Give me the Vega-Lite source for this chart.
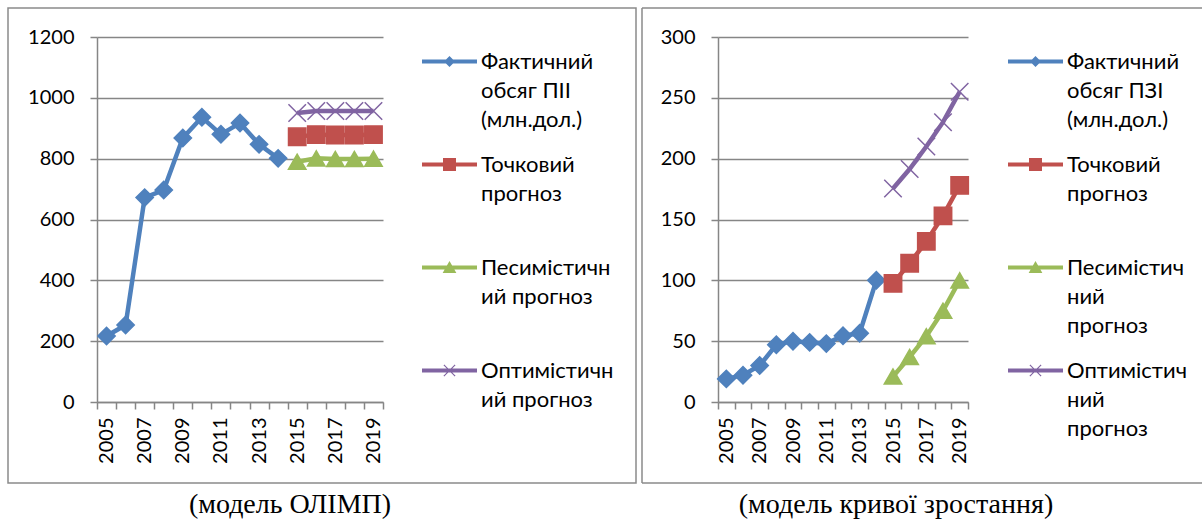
{
  "$schema": "https://vega.github.io/schema/vega-lite/v6.json",
  "background": "white",
  "padding": {"left": 7, "top": 7, "right": 0, "bottom": 0},
  "spacing": 4,
  "datasets": {
    "olimp": [
      {"year": 2005, "series": "Фактичний обсяг ПІІ (млн.дол.)", "value": 217},
      {"year": 2006, "series": "Фактичний обсяг ПІІ (млн.дол.)", "value": 253},
      {"year": 2007, "series": "Фактичний обсяг ПІІ (млн.дол.)", "value": 672},
      {"year": 2008, "series": "Фактичний обсяг ПІІ (млн.дол.)", "value": 697},
      {"year": 2009, "series": "Фактичний обсяг ПІІ (млн.дол.)", "value": 868},
      {"year": 2010, "series": "Фактичний обсяг ПІІ (млн.дол.)", "value": 936},
      {"year": 2011, "series": "Фактичний обсяг ПІІ (млн.дол.)", "value": 880},
      {"year": 2012, "series": "Фактичний обсяг ПІІ (млн.дол.)", "value": 917},
      {"year": 2013, "series": "Фактичний обсяг ПІІ (млн.дол.)", "value": 847},
      {"year": 2014, "series": "Фактичний обсяг ПІІ (млн.дол.)", "value": 801},
      {"year": 2015, "series": "Точковий прогноз", "value": 872},
      {"year": 2016, "series": "Точковий прогноз", "value": 879},
      {"year": 2017, "series": "Точковий прогноз", "value": 878},
      {"year": 2018, "series": "Точковий прогноз", "value": 878},
      {"year": 2019, "series": "Точковий прогноз", "value": 879},
      {"year": 2015, "series": "Песимістичний прогноз", "value": 790},
      {"year": 2016, "series": "Песимістичний прогноз", "value": 801},
      {"year": 2017, "series": "Песимістичний прогноз", "value": 799},
      {"year": 2018, "series": "Песимістичний прогноз", "value": 799},
      {"year": 2019, "series": "Песимістичний прогноз", "value": 800},
      {"year": 2015, "series": "Оптимістичний прогноз", "value": 950},
      {"year": 2016, "series": "Оптимістичний прогноз", "value": 957},
      {"year": 2017, "series": "Оптимістичний прогноз", "value": 957},
      {"year": 2018, "series": "Оптимістичний прогноз", "value": 957},
      {"year": 2019, "series": "Оптимістичний прогноз", "value": 957}
    ],
    "growth": [
      {"year": 2005, "series": "Фактичний обсяг ПЗІ (млн.дол.)", "value": 19},
      {"year": 2006, "series": "Фактичний обсяг ПЗІ (млн.дол.)", "value": 22},
      {"year": 2007, "series": "Фактичний обсяг ПЗІ (млн.дол.)", "value": 30},
      {"year": 2008, "series": "Фактичний обсяг ПЗІ (млн.дол.)", "value": 47},
      {"year": 2009, "series": "Фактичний обсяг ПЗІ (млн.дол.)", "value": 50},
      {"year": 2010, "series": "Фактичний обсяг ПЗІ (млн.дол.)", "value": 49},
      {"year": 2011, "series": "Фактичний обсяг ПЗІ (млн.дол.)", "value": 48},
      {"year": 2012, "series": "Фактичний обсяг ПЗІ (млн.дол.)", "value": 54.5},
      {"year": 2013, "series": "Фактичний обсяг ПЗІ (млн.дол.)", "value": 56.5},
      {"year": 2014, "series": "Фактичний обсяг ПЗІ (млн.дол.)", "value": 100},
      {"year": 2015, "series": "Точковий прогноз", "value": 97.5},
      {"year": 2016, "series": "Точковий прогноз", "value": 114},
      {"year": 2017, "series": "Точковий прогноз", "value": 132},
      {"year": 2018, "series": "Точковий прогноз", "value": 153},
      {"year": 2019, "series": "Точковий прогноз", "value": 178},
      {"year": 2015, "series": "Песимістичний прогноз", "value": 21},
      {"year": 2016, "series": "Песимістичний прогноз", "value": 37},
      {"year": 2017, "series": "Песимістичний прогноз", "value": 54},
      {"year": 2018, "series": "Песимістичний прогноз", "value": 75},
      {"year": 2019, "series": "Песимістичний прогноз", "value": 100},
      {"year": 2015, "series": "Оптимістичний прогноз", "value": 175.5},
      {"year": 2016, "series": "Оптимістичний прогноз", "value": 191.5},
      {"year": 2017, "series": "Оптимістичний прогноз", "value": 210},
      {"year": 2018, "series": "Оптимістичний прогноз", "value": 230},
      {"year": 2019, "series": "Оптимістичний прогноз", "value": 255}
    ]
  },
  "hconcat": [
    {
      "width": 286,
      "height": 365,
      "data": {"name": "olimp"},
      "title": {"text": "(модель ОЛІМП)", "orient": "bottom", "anchor": "middle", "frame": "group", "dx": 50, "offset": 7, "font": "Liberation Serif", "fontSize": 28, "fontWeight": "normal", "color": "#000"},
      "layer": [
        {
          "data": {"values": [{}]},
          "mark": {"type": "rect", "filled": false, "stroke": "#8a8a8a", "strokeWidth": 1.5},
          "encoding": {"x": {"value": -89}, "x2": {"value": 539}, "y": {"value": -29}, "y2": {"value": 446}}
        },
        {
          "mark": {"type": "line", "strokeWidth": 4.5},
          "encoding": {
            "x": {"field": "year", "type": "ordinal", "bandPosition": 0.5, "scale": {"type": "band", "paddingInner": 0, "paddingOuter": 0}, "axis": {"labelExpr": "datum.value % 2 == 1 ? datum.label : ''"}},
            "y": {"field": "value", "type": "quantitative", "scale": {"domain": [0, 1200], "nice": false}, "axis": {"values": [0, 200, 400, 600, 800, 1000, 1200], "format": "d"}},
            "color": {
              "field": "series", "type": "nominal",
              "scale": {"domain": ["Фактичний обсяг ПІІ (млн.дол.)", "Точковий прогноз", "Песимістичний прогноз", "Оптимістичний прогноз"], "range": ["#4f81bd", "#c0504d", "#9bbb59", "#8064a2"]},
              "legend": null
            }
          }
        },
        {
          "mark": {"type": "point", "filled": true, "opacity": 1, "strokeWidth": 1.5},
          "encoding": {
            "x": {"field": "year", "type": "ordinal", "bandPosition": 0.5},
            "y": {"field": "value", "type": "quantitative"},
            "fill": {"field": "series", "type": "nominal", "scale": {"domain": ["Фактичний обсяг ПІІ (млн.дол.)", "Точковий прогноз", "Песимістичний прогноз", "Оптимістичний прогноз"], "range": ["#4f81bd", "#c0504d", "#9bbb59", "#8064a2"]}, "legend": null},
            "stroke": {"field": "series", "type": "nominal", "scale": {"domain": ["Фактичний обсяг ПІІ (млн.дол.)", "Точковий прогноз", "Песимістичний прогноз", "Оптимістичний прогноз"], "range": ["#4f81bd", "#c0504d", "#9bbb59", "#8064a2"]}, "legend": null},
            "shape": {"field": "series", "type": "nominal", "scale": {"domain": ["Фактичний обсяг ПІІ (млн.дол.)", "Точковий прогноз", "Песимістичний прогноз", "Оптимістичний прогноз"], "range": ["diamond", "square", "triangle-up", "M-1,-1L1,1M-1,1L1,-1"]}, "legend": null},
            "size": {"field": "series", "type": "ordinal", "scale": {"domain": ["Фактичний обсяг ПІІ (млн.дол.)", "Точковий прогноз", "Песимістичний прогноз", "Оптимістичний прогноз"], "range": [300, 306, 306, 324]}, "legend": null}
          }
        },
        {
          "mark": {"type": "point", "filled": true, "opacity": 0},
          "encoding": {
            "x": {"field": "year", "type": "ordinal", "bandPosition": 0.5},
            "y": {"field": "value", "type": "quantitative"},
            "fill": {
              "field": "series", "type": "nominal",
              "scale": {"domain": ["Фактичний обсяг ПІІ (млн.дол.)", "Точковий прогноз", "Песимістичний прогноз", "Оптимістичний прогноз"], "range": ["#4f81bd", "#c0504d", "#9bbb59", "#8064a2"]},
              "legend": {
                "title": null, "orient": "none", "legendX": 325, "legendY": -3, "direction": "vertical", "columns": 1, "padding": 0,
                "symbolSize": 3025, "symbolStrokeWidth": 0, "symbolOpacity": 1, "gridAlign": "all", "rowPadding": 6,
                "labelFont": "Lato, Open Sans, sans-serif", "labelFontSize": 22, "labelColor": "#000", "labelLimit": 0, "labelOffset": 4, "labelBaseline": "top",
                "labelExpr": "{'Фактичний обсяг ПІІ (млн.дол.)': ['Фактичний', 'обсяг ПІІ', '(млн.дол.)'], 'Точковий прогноз': ['Точковий', 'прогноз'], 'Песимістичний прогноз': ['Песимістичн', 'ий прогноз'], 'Оптимістичний прогноз': ['Оптимістичн', 'ий прогноз']}[datum.label]",
                "encode": {"labels": {"update": {"dy": {"value": -10}, "lineHeight": {"value": 29}}}}
              }
            },
            "shape": {
              "field": "series", "type": "nominal",
              "scale": {"domain": ["Фактичний обсяг ПІІ (млн.дол.)", "Точковий прогноз", "Песимістичний прогноз", "Оптимістичний прогноз"], "range": ["M-1,-0.073H1V0.073H-1ZM0,-0.2L0.2,0L0,0.2L-0.2,0Z", "M-1,-0.073H1V0.073H-1ZM-0.236,-0.236H0.236V0.236H-0.236Z", "M-1,-0.073H1V0.073H-1ZM0,-0.24L0.25,0.2L-0.25,0.2Z", "M-1,-0.073H1V0.073H-1ZM-0.22,-0.19L-0.19,-0.22L0.22,0.19L0.19,0.22ZM-0.19,0.22L-0.22,0.19L0.19,-0.22L0.22,-0.19Z"]}
            }
          }
        }
      ],
      "resolve": {"scale": {"shape": "independent", "fill": "independent"}, "legend": {"shape": "independent", "fill": "independent"}}
    },
    {
      "width": 250,
      "height": 365,
      "data": {"name": "growth"},
      "title": {"text": "(модель кривої зростання)", "orient": "bottom", "anchor": "middle", "frame": "group", "dx": 53, "offset": 7, "font": "Liberation Serif", "fontSize": 28, "fontWeight": "normal", "color": "#000"},
      "layer": [
        {
          "data": {"values": [{}]},
          "mark": {"type": "rule", "stroke": "#8a8a8a", "strokeWidth": 1.5},
          "encoding": {"x": {"value": -76}, "x2": {"value": 484}, "y": {"value": -29}}
        },
        {
          "data": {"values": [{}]},
          "mark": {"type": "rule", "stroke": "#8a8a8a", "strokeWidth": 1.5},
          "encoding": {"x": {"value": -76}, "y": {"value": -29}, "y2": {"value": 446}}
        },
        {
          "data": {"values": [{}]},
          "mark": {"type": "rule", "stroke": "#8a8a8a", "strokeWidth": 1.5},
          "encoding": {"x": {"value": -76}, "x2": {"value": 484}, "y": {"value": 446}}
        },
        {
          "mark": {"type": "line", "strokeWidth": 4.5},
          "encoding": {
            "x": {"field": "year", "type": "ordinal", "bandPosition": 0.5, "scale": {"type": "band", "paddingInner": 0, "paddingOuter": 0}, "axis": {"labelExpr": "datum.value % 2 == 1 ? datum.label : ''"}},
            "y": {"field": "value", "type": "quantitative", "scale": {"domain": [0, 300], "nice": false}, "axis": {"values": [0, 50, 100, 150, 200, 250, 300], "format": "d"}},
            "color": {
              "field": "series", "type": "nominal",
              "scale": {"domain": ["Фактичний обсяг ПЗІ (млн.дол.)", "Точковий прогноз", "Песимістичний прогноз", "Оптимістичний прогноз"], "range": ["#4f81bd", "#c0504d", "#9bbb59", "#8064a2"]},
              "legend": null
            }
          }
        },
        {
          "mark": {"type": "point", "filled": true, "opacity": 1, "strokeWidth": 1.5},
          "encoding": {
            "x": {"field": "year", "type": "ordinal", "bandPosition": 0.5},
            "y": {"field": "value", "type": "quantitative"},
            "fill": {"field": "series", "type": "nominal", "scale": {"domain": ["Фактичний обсяг ПЗІ (млн.дол.)", "Точковий прогноз", "Песимістичний прогноз", "Оптимістичний прогноз"], "range": ["#4f81bd", "#c0504d", "#9bbb59", "#8064a2"]}, "legend": null},
            "stroke": {"field": "series", "type": "nominal", "scale": {"domain": ["Фактичний обсяг ПЗІ (млн.дол.)", "Точковий прогноз", "Песимістичний прогноз", "Оптимістичний прогноз"], "range": ["#4f81bd", "#c0504d", "#9bbb59", "#8064a2"]}, "legend": null},
            "shape": {"field": "series", "type": "nominal", "scale": {"domain": ["Фактичний обсяг ПЗІ (млн.дол.)", "Точковий прогноз", "Песимістичний прогноз", "Оптимістичний прогноз"], "range": ["diamond", "square", "triangle-up", "M-1,-1L1,1M-1,1L1,-1"]}, "legend": null},
            "size": {"field": "series", "type": "ordinal", "scale": {"domain": ["Фактичний обсяг ПЗІ (млн.дол.)", "Точковий прогноз", "Песимістичний прогноз", "Оптимістичний прогноз"], "range": [300, 306, 306, 324]}, "legend": null}
          }
        },
        {
          "mark": {"type": "point", "filled": true, "opacity": 0},
          "encoding": {
            "x": {"field": "year", "type": "ordinal", "bandPosition": 0.5},
            "y": {"field": "value", "type": "quantitative"},
            "fill": {
              "field": "series", "type": "nominal",
              "scale": {"domain": ["Фактичний обсяг ПЗІ (млн.дол.)", "Точковий прогноз", "Песимістичний прогноз", "Оптимістичний прогноз"], "range": ["#4f81bd", "#c0504d", "#9bbb59", "#8064a2"]},
              "legend": {
                "title": null, "orient": "none", "legendX": 290, "legendY": -3, "direction": "vertical", "columns": 1, "padding": 0,
                "symbolSize": 3025, "symbolStrokeWidth": 0, "symbolOpacity": 1, "gridAlign": "all", "rowPadding": 6,
                "labelFont": "Lato, Open Sans, sans-serif", "labelFontSize": 22, "labelColor": "#000", "labelLimit": 0, "labelOffset": 4, "labelBaseline": "top",
                "labelExpr": "{'Фактичний обсяг ПЗІ (млн.дол.)': ['Фактичний', 'обсяг ПЗІ', '(млн.дол.)'], 'Точковий прогноз': ['Точковий', 'прогноз'], 'Песимістичний прогноз': ['Песимістич', 'ний', 'прогноз'], 'Оптимістичний прогноз': ['Оптимістич', 'ний', 'прогноз']}[datum.label]",
                "encode": {"labels": {"update": {"dy": {"value": -10}, "lineHeight": {"value": 29}}}}
              }
            },
            "shape": {
              "field": "series", "type": "nominal",
              "scale": {"domain": ["Фактичний обсяг ПЗІ (млн.дол.)", "Точковий прогноз", "Песимістичний прогноз", "Оптимістичний прогноз"], "range": ["M-1,-0.073H1V0.073H-1ZM0,-0.2L0.2,0L0,0.2L-0.2,0Z", "M-1,-0.073H1V0.073H-1ZM-0.236,-0.236H0.236V0.236H-0.236Z", "M-1,-0.073H1V0.073H-1ZM0,-0.24L0.25,0.2L-0.25,0.2Z", "M-1,-0.073H1V0.073H-1ZM-0.22,-0.19L-0.19,-0.22L0.22,0.19L0.19,0.22ZM-0.19,0.22L-0.22,0.19L0.19,-0.22L0.22,-0.19Z"]}
            }
          }
        }
      ],
      "resolve": {"scale": {"shape": "independent", "fill": "independent"}, "legend": {"shape": "independent", "fill": "independent"}}
    }
  ],
  "resolve": {
    "scale": {"x": "independent", "y": "independent", "color": "independent", "fill": "independent", "stroke": "independent", "shape": "independent", "size": "independent"},
    "legend": {"color": "independent", "fill": "independent", "shape": "independent"}
  },
  "config": {
    "view": {"stroke": null},
    "axis": {
      "title": null,
      "domainColor": "#868686", "domainWidth": 1.5,
      "tickColor": "#868686", "tickWidth": 1.5, "tickSize": 7,
      "gridColor": "#868686", "gridWidth": 1.5, "gridOpacity": 1,
      "labelFont": "Lato, Open Sans, sans-serif", "labelFontSize": 20, "labelColor": "#000"
    },
    "axisX": {"grid": false, "labelAngle": -90, "labelPadding": 8, "tickBand": "extent", "labelOverlap": false},
    "axisY": {"grid": true, "labelPadding": 16}
  }
}
